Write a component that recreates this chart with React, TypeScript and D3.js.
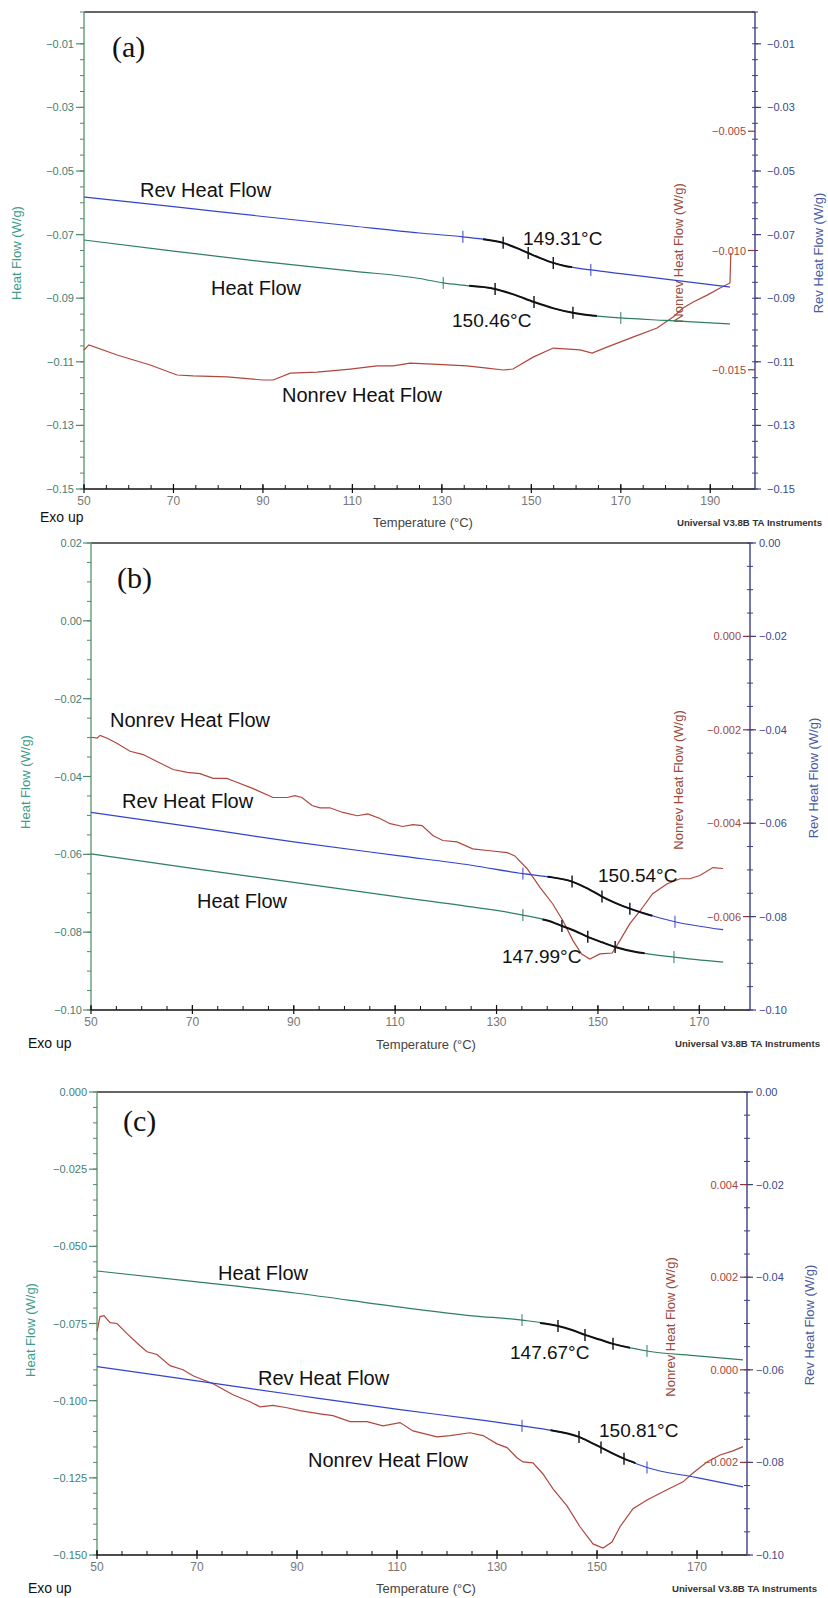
import React from "react";
import * as d3 from "d3";

type Pt = [number, number];

// ---------- panel (a) ----------
const aTemps = [50, 70, 90, 110, 130, 150, 170, 190];
const aHeatTicks = [-0.01, -0.03, -0.05, -0.07, -0.09, -0.11, -0.13, -0.15];
const aRevTicks = [-0.01, -0.03, -0.05, -0.07, -0.09, -0.11, -0.13, -0.15];
const aNonrevTicks = [-0.005, -0.01, -0.015];
const aHeatFlow: Pt[] = [
  [50, -0.0717], [70, -0.0752], [90, -0.0785], [110, -0.0815], [125, -0.0838],
  [130.3, -0.0852], [136, -0.0861], [141.9, -0.0871], [146, -0.0888], [150.6, -0.0912],
  [155, -0.0932], [159.3, -0.0946], [164, -0.0955], [170, -0.0962], [180, -0.097], [194.4, -0.0981],
];
const aRevHeatFlow: Pt[] = [
  [50, -0.0582], [70, -0.0612], [90, -0.0643], [110, -0.0673], [125, -0.0695],
  [134.7, -0.0707], [140, -0.0716], [143.7, -0.0726], [146.5, -0.0741], [149.3, -0.0758],
  [152, -0.0774], [154.9, -0.0789], [158, -0.08], [163.3, -0.0811], [170, -0.0823],
  [180, -0.084], [194.4, -0.0865],
];
const aNonrevHeatFlow: Pt[] = [
  [50, -0.01417], [51.1, -0.01396], [57.4, -0.01438], [64.8, -0.0148], [70.8, -0.01522],
  [74.4, -0.01526], [82, -0.0153], [90, -0.01543], [92.3, -0.01543], [96.1, -0.01514],
  [102.1, -0.0151], [109.5, -0.01497], [115.5, -0.01484], [119.1, -0.01484], [122.9, -0.01472],
  [128, -0.01476], [135.6, -0.01484], [140.1, -0.01493], [143.7, -0.01501], [145.9, -0.01497],
  [150.4, -0.01447], [154.9, -0.01409], [160.9, -0.01417], [163.6, -0.0143], [166.9, -0.01405],
  [172.7, -0.01363], [178.1, -0.01325], [181.7, -0.01279], [183.9, -0.01241], [186.2, -0.01216],
  [189.3, -0.01187], [192.2, -0.01157], [194.4, -0.01136], [194.6, -0.0101],
];
const aHeatMarks = [130.3, 141.9, 150.6, 159.3, 170];
const aRevMarks = [134.7, 143.7, 149.3, 154.9, 163.3];

// ---------- panel (b) ----------
const bTemps = [50, 70, 90, 110, 130, 150, 170];
const bHeatTicks = [0.02, 0.0, -0.02, -0.04, -0.06, -0.08, -0.1];
const bRevTicks = [0.0, -0.02, -0.04, -0.06, -0.08, -0.1];
const bNonrevTicks = [0.0, -0.002, -0.004, -0.006];
const bHeatFlow: Pt[] = [
  [50, -0.0599], [70, -0.0636], [90, -0.0672], [110.9, -0.071], [125, -0.0735],
  [135.2, -0.0756], [140, -0.077], [142.9, -0.0784], [145.5, -0.0797], [148, -0.0812],
  [150.8, -0.0826], [153.4, -0.0838], [158, -0.0852], [165, -0.0864], [174.7, -0.0877],
];
const bRevHeatFlow: Pt[] = [
  [50, -0.0577], [70, -0.0608], [90, -0.064], [110.9, -0.067], [125, -0.069],
  [135.2, -0.0708], [141, -0.0716], [144.9, -0.0725], [148, -0.074], [150.8, -0.0757],
  [153.5, -0.0771], [156.3, -0.0783], [160, -0.0796], [165.2, -0.0811], [174.7, -0.0828],
];
const bNonrevHeatFlow: Pt[] = [
  [50, -0.00216], [51.2, -0.00218], [51.8, -0.00212], [53.2, -0.00218], [55.1, -0.00229],
  [57.7, -0.00246], [60.3, -0.00253], [63, -0.00268], [66.2, -0.00285], [69, -0.00291],
  [71.5, -0.00294], [74.1, -0.00304], [76.8, -0.00304], [78, -0.00309], [82, -0.00326],
  [85.9, -0.00345], [88.7, -0.00345], [90.2, -0.00341], [91.6, -0.00345], [93.6, -0.00362],
  [95.2, -0.00367], [97.1, -0.00367], [99.7, -0.00377], [102.5, -0.00384], [104.6, -0.0038],
  [107, -0.0039], [109, -0.00401], [111.5, -0.00407], [113.5, -0.00403], [115.3, -0.00405],
  [117.5, -0.00427], [119.4, -0.00437], [122.2, -0.0044], [125.3, -0.00455], [128.7, -0.00459],
  [132.1, -0.00463], [133.6, -0.0047], [136, -0.00497], [138.6, -0.00538], [141.1, -0.00573],
  [143.1, -0.00609], [145.1, -0.00652], [146.8, -0.0068], [148.4, -0.00691], [150.4, -0.0068],
  [152.8, -0.00678], [154.3, -0.00652], [156.3, -0.00615], [158.3, -0.00588], [160.8, -0.00551],
  [163.6, -0.0053], [166.2, -0.00519], [168.1, -0.00519], [170.1, -0.00512], [172.7, -0.00495],
  [174.7, -0.00497],
];
const bHeatMarks = [135.2, 142.9, 148, 153.4, 165];
const bRevMarks = [135.2, 144.9, 150.8, 156.3, 165.2];

// ---------- panel (c) ----------
const cTemps = [50, 70, 90, 110, 130, 150, 170];
const cHeatTicks = [0.0, -0.025, -0.05, -0.075, -0.1, -0.125, -0.15];
const cRevTicks = [0.0, -0.02, -0.04, -0.06, -0.08, -0.1];
const cNonrevTicks = [0.004, 0.002, 0.0, -0.002];
const cHeatFlow: Pt[] = [
  [50, -0.058], [70, -0.0615], [90, -0.0652], [110.6, -0.0697], [125, -0.0725],
  [135, -0.0739], [142.2, -0.0758], [145, -0.0771], [147.6, -0.0787], [150.5, -0.0802],
  [153.2, -0.0816], [157, -0.083], [160, -0.0839], [170, -0.0855], [179.2, -0.0868],
];
const cRevHeatFlow: Pt[] = [
  [50, -0.0593], [70, -0.0624], [90, -0.0655], [110.6, -0.0686], [125, -0.0706],
  [135, -0.0721], [141, -0.0731], [146.4, -0.0745], [148.6, -0.0756], [150.8, -0.0768],
  [153, -0.078], [155.4, -0.0792], [160, -0.0811], [170, -0.0833], [179.2, -0.0853],
];
const cNonrevHeatFlow: Pt[] = [
  [50, 0.00083], [50.6, 0.00115], [51.4, 0.00117], [52.6, 0.00102], [54, 0.001],
  [56, 0.00078], [58.6, 0.00052], [60, 0.00039], [62, 0.00033], [64.6, 0.00009],
  [67.2, 0.0], [69.2, -0.00013], [73.2, -0.0003], [77.2, -0.00054], [80.6, -0.00069],
  [82.6, -0.0008], [85.2, -0.00077], [88, -0.00082], [90.6, -0.00088], [94.6, -0.00095],
  [97.2, -0.00099], [100.6, -0.00112], [104, -0.00112], [107.2, -0.00121], [110.6, -0.00114],
  [113.2, -0.00132], [118, -0.00145], [120.6, -0.00142], [124.6, -0.00136], [127.2, -0.00142],
  [130, -0.0016], [132, -0.00168], [134, -0.0019], [135.2, -0.00199], [137.2, -0.00201],
  [139.2, -0.00225], [141.2, -0.00257], [144, -0.00294], [146.6, -0.00339], [149.2, -0.00376],
  [151.2, -0.00385], [153, -0.00372], [154.6, -0.00339], [157.2, -0.003], [160, -0.00281],
  [164, -0.00259], [167.2, -0.00242], [169.2, -0.00223], [172, -0.00199], [174.6, -0.00184],
  [177.2, -0.00175], [179.2, -0.00166],
];
const cHeatMarks = [135, 142.2, 147.6, 153.2, 160];
const cRevMarks = [135, 146.4, 150.8, 155.4, 160];

const SANS = "'Liberation Sans', Arial, sans-serif";
const SERIF = "'Liberation Serif', 'Times New Roman', serif";
const GREEN = "#2f7f5f";
const BLUE = "#3344cc";
const RED = "#b0473c";

const panels = [
  {
    tag: "(a)", tagPos: [112, 57],
    left: 84, right: 755, top: 12, bottom: 489,
    xDomain: [50, 200], temps: aTemps,
    leftDomain: [-0.15, 0], leftTicks: aHeatTicks, leftFmt: ".2f", leftGap: 10,
    revDomain: [-0.15, 0], revTicks: aRevTicks, revFmt: ".2f", revGap: 12,
    nonrevDomain: [-0.02, 0], nonrevTicks: aNonrevTicks, nonrevFmt: ".3f",
    heat: aHeatFlow, rev: aRevHeatFlow, nonrev: aNonrevHeatFlow,
    heatMarks: aHeatMarks, revMarks: aRevMarks,
    labels: [
      ["Rev Heat Flow", 140, 197], ["Heat Flow", 211, 295], ["Nonrev Heat Flow", 282, 402],
    ],
    onsets: [["149.31°C", 523, 245], ["150.46°C", 452, 327]],
    leftTitle: [18, 253], nonrevTitle: [680, 253], revTitle: [820, 253],
    exo: [40, 522], temp: [423, 527], univ: [677, 526],
  },
  {
    tag: "(b)", tagPos: [117, 588],
    left: 91, right: 750, top: 543, bottom: 1010,
    xDomain: [50, 180], temps: bTemps,
    leftDomain: [-0.1, 0.02], leftTicks: bHeatTicks, leftFmt: ".2f", leftGap: 9,
    revDomain: [-0.1, 0], revTicks: bRevTicks, revFmt: ".2f", revGap: 9,
    nonrevDomain: [-0.008, 0.002], nonrevTicks: bNonrevTicks, nonrevFmt: ".3f",
    heat: bHeatFlow, rev: bRevHeatFlow, nonrev: bNonrevHeatFlow,
    heatMarks: bHeatMarks, revMarks: bRevMarks,
    labels: [
      ["Nonrev Heat Flow", 110, 727], ["Rev Heat Flow", 122, 808], ["Heat Flow", 197, 908],
    ],
    onsets: [["150.54°C", 598, 882], ["147.99°C", 502, 963]],
    leftTitle: [27, 782], nonrevTitle: [680, 780], revTitle: [815, 778],
    exo: [28, 1048], temp: [426, 1049], univ: [675, 1047],
  },
  {
    tag: "(c)", tagPos: [123, 1131],
    left: 97, right: 747, top: 1092, bottom: 1555,
    xDomain: [50, 180], temps: cTemps,
    leftDomain: [-0.15, 0], leftTicks: cHeatTicks, leftFmt: ".3f", leftGap: 10,
    revDomain: [-0.1, 0], revTicks: cRevTicks, revFmt: ".2f", revGap: 9,
    nonrevDomain: [-0.004, 0.006], nonrevTicks: cNonrevTicks, nonrevFmt: ".3f",
    heat: cHeatFlow, rev: cRevHeatFlow, nonrev: cNonrevHeatFlow,
    heatMarks: cHeatMarks, revMarks: cRevMarks,
    labels: [
      ["Heat Flow", 218, 1280], ["Rev Heat Flow", 258, 1385], ["Nonrev Heat Flow", 308, 1467],
    ],
    onsets: [["147.67°C", 510, 1359], ["150.81°C", 599, 1437]],
    leftTitle: [32, 1330], nonrevTitle: [672, 1327], revTitle: [811, 1325],
    exo: [28, 1593], temp: [426, 1593], univ: [672, 1592],
  },
];

const bis = d3.bisector((d: Pt) => d[0]).left;
function valueAt(s: Pt[], t: number) {
  const i = bis(s, t);
  if (i <= 0) return s[0][1];
  if (i >= s.length) return s[s.length - 1][1];
  const [x0, y0] = s[i - 1];
  const [x1, y1] = s[i];
  return y0 + ((y1 - y0) * (t - x0)) / (x1 - x0);
}

function minorRange(domain: number[], step: number) {
  const lo = Math.ceil(domain[0] / step - 1e-6);
  const hi = Math.floor(domain[1] / step + 1e-6);
  return d3.range(lo, hi + 1).map((k) => k * step);
}

function Transition({ series, marks, x, y, color }: any) {
  const start = (marks[0] + marks[1]) / 2;
  const end = (marks[3] + marks[4]) / 2;
  const pts: Pt[] = [
    [start, valueAt(series, start)],
    ...series.filter((d: Pt) => d[0] > start && d[0] < end),
    [end, valueAt(series, end)],
  ];
  const line = d3.line<Pt>().x((d) => x(d[0])).y((d) => y(d[1])).curve(d3.curveMonotoneX);
  return (
    <g>
      <path d={line(pts) || ""} fill="none" stroke="#111" strokeWidth={2} />
      {marks.map((t: number, i: number) => {
        const px = x(t);
        const py = y(valueAt(series, t));
        const outer = i === 0 || i === marks.length - 1;
        return (
          <line key={i} x1={px} x2={px} y1={py - 6} y2={py + 6}
            stroke={outer ? color : "#111"} strokeWidth={outer ? 1 : 1.4} />
        );
      })}
    </g>
  );
}

function Panel({ p }: any) {
  const x = d3.scaleLinear().domain(p.xDomain).range([p.left, p.right]);
  const yL = d3.scaleLinear().domain(p.leftDomain).range([p.bottom, p.top]);
  const yR = d3.scaleLinear().domain(p.revDomain).range([p.bottom, p.top]);
  const yN = d3.scaleLinear().domain(p.nonrevDomain).range([p.bottom, p.top]);
  const smooth = (ys: any) => d3.line<Pt>().x((d) => x(d[0])).y((d) => ys(d[1])).curve(d3.curveMonotoneX);
  const jag = d3.line<Pt>().x((d) => x(d[0])).y((d) => yN(d[1]));
  const fL = d3.format(p.leftFmt);
  const fR = d3.format(p.revFmt);
  const fN = d3.format(p.nonrevFmt);
  const minorX = minorRange(p.xDomain, 5).filter((t) => t < p.xDomain[1]);
  const minorL = minorRange(p.leftDomain, 0.005);
  const minorR = minorRange(p.revDomain, 0.005);

  return (
    <g>
      {/* frame */}
      <line x1={p.left} x2={p.right} y1={p.top} y2={p.top} stroke="#333" strokeWidth={1.4} />
      <line x1={p.left} x2={p.left} y1={p.top} y2={p.bottom} stroke="#5f9c72" strokeWidth={1.4} />
      <line x1={p.left} x2={p.right} y1={p.bottom} y2={p.bottom} stroke="#111" strokeWidth={1.5} />
      <line x1={p.right} x2={p.right} y1={p.top} y2={p.bottom} stroke="#3d3d86" strokeWidth={1.4} />

      {/* left axis */}
      {minorL.map((v, i) => (
        <line key={"lm" + i} x1={p.left - 4} x2={p.left} y1={yL(v)} y2={yL(v)} stroke="#4f8a70" strokeWidth={1} />
      ))}
      {p.leftTicks.map((v: number, i: number) => (
        <g key={"lt" + i}>
          <line x1={p.left - 8} x2={p.left} y1={yL(v)} y2={yL(v)} stroke="#4f8a70" strokeWidth={1.2} />
          <text x={p.left - p.leftGap} y={yL(v) + 4} textAnchor="end" fontSize={11}
            fontFamily={SANS} fill="#3f7f74">{fL(v)}</text>
        </g>
      ))}
      <text transform={`translate(${p.leftTitle[0]},${p.leftTitle[1]}) rotate(-90)`} textAnchor="middle"
        dominantBaseline="middle" fontSize={13} fontFamily={SANS} fill="#3d9c8c">Heat Flow (W/g)</text>

      {/* x axis */}
      {minorX.map((t, i) => (
        <line key={"xm" + i} x1={x(t)} x2={x(t)} y1={p.bottom - 4} y2={p.bottom} stroke="#111" strokeWidth={1} />
      ))}
      {p.temps.map((t: number, i: number) => (
        <g key={"xt" + i}>
          <line x1={x(t)} x2={x(t)} y1={p.bottom - 5} y2={p.bottom + 4} stroke="#111" strokeWidth={1.2} />
          <text x={x(t)} y={p.bottom + 16} textAnchor="middle" fontSize={12} fontFamily={SANS} fill="#777">
            {d3.format("d")(t)}
          </text>
        </g>
      ))}

      {/* right axes */}
      {minorR.map((v, i) => (
        <line key={"rm" + i} x1={p.right - 3} x2={p.right + 3} y1={yR(v)} y2={yR(v)} stroke="#3d3d86" strokeWidth={1} />
      ))}
      {p.revTicks.map((v: number, i: number) => (
        <g key={"rt" + i}>
          <line x1={p.right} x2={p.right + 6} y1={yR(v)} y2={yR(v)} stroke="#3d3d86" strokeWidth={1.2} />
          <text x={p.right + p.revGap} y={yR(v) + 4} fontSize={11} fontFamily={SANS} fill="#3a4a8a">{fR(v)}</text>
        </g>
      ))}
      {p.nonrevTicks.map((v: number, i: number) => (
        <g key={"nt" + i}>
          <line x1={p.right - 7} x2={p.right} y1={yN(v)} y2={yN(v)} stroke="#8a3a3a" strokeWidth={1.2} />
          <text x={p.right - 9} y={yN(v) + 4} textAnchor="end" fontSize={11} fontFamily={SANS} fill="#a0473c">{fN(v)}</text>
        </g>
      ))}
      <text transform={`translate(${p.revTitle[0]},${p.revTitle[1]}) rotate(-90)`} textAnchor="middle"
        dominantBaseline="middle" fontSize={13} fontFamily={SANS} fill="#4a5aa0">Rev Heat Flow (W/g)</text>
      <text transform={`translate(${p.nonrevTitle[0]},${p.nonrevTitle[1]}) rotate(-90)`} textAnchor="middle"
        dominantBaseline="middle" fontSize={13} fontFamily={SANS} fill="#9a4a3a">Nonrev Heat Flow (W/g)</text>

      {/* curves */}
      <path d={jag(p.nonrev) || ""} fill="none" stroke={RED} strokeWidth={1.2} />
      <path d={smooth(yR)(p.rev) || ""} fill="none" stroke={BLUE} strokeWidth={1.2} />
      <path d={smooth(yL)(p.heat) || ""} fill="none" stroke={GREEN} strokeWidth={1.2} />
      <Transition series={p.rev} marks={p.revMarks} x={x} y={yR} color={BLUE} />
      <Transition series={p.heat} marks={p.heatMarks} x={x} y={yL} color={GREEN} />

      {/* annotations */}
      {p.labels.map((l: any, i: number) => (
        <text key={"lb" + i} x={l[1]} y={l[2]} fontSize={20} fontFamily={SANS} fill="#111">{l[0]}</text>
      ))}
      {p.onsets.map((l: any, i: number) => (
        <text key={"on" + i} x={l[1]} y={l[2]} fontSize={19} fontFamily={SANS} fill="#111">{l[0]}</text>
      ))}
      <text x={p.tagPos[0]} y={p.tagPos[1]} fontSize={30} fontFamily={SERIF} fill="#111">{p.tag}</text>

      {/* footer */}
      <text x={p.exo[0]} y={p.exo[1]} fontSize={14} fontFamily={SANS} fill="#111">Exo up</text>
      <text x={p.temp[0]} y={p.temp[1]} textAnchor="middle" fontSize={13} fontFamily={SANS} fill="#444">
        Temperature (°C)
      </text>
      <text x={p.univ[0]} y={p.univ[1]} fontSize={9} fontWeight="bold" fontFamily={SANS} fill="#333"
        textLength={145} lengthAdjust="spacingAndGlyphs">Universal V3.8B TA Instruments</text>
    </g>
  );
}

export default function App() {
  return (
    <svg width={828} height={1598} style={{ position: "absolute", left: 0, top: 0, background: "#fff" }}>
      <rect x={0} y={0} width={828} height={1598} fill="#fff" />
      {panels.map((p, i) => (
        <Panel key={i} p={p} />
      ))}
    </svg>
  );
}
